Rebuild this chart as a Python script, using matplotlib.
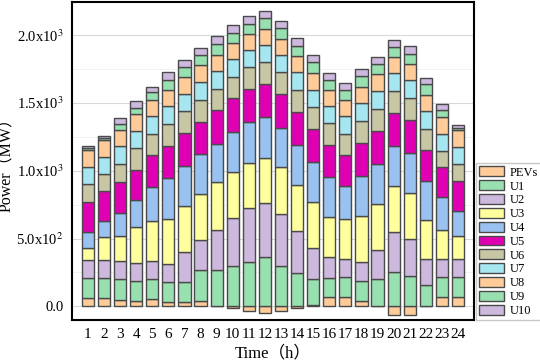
import matplotlib
matplotlib.use("Agg")
import matplotlib.pyplot as plt
import numpy as np

plt.rcParams['font.family'] = ['Liberation Serif', 'Noto Sans CJK SC', 'DejaVu Sans']
plt.rcParams['mathtext.fontset'] = 'stix'

hours = list(range(1, 25))
series_names = ['PEVs', 'U1', 'U2', 'U3', 'U4', 'U5', 'U6', 'U7', 'U8', 'U9', 'U10']

pevs = [61, 61, 49, 42, 54, 29, 34, 42, 5, -15, -31, -49,
        -37, -10, 10, 66, 66, 40, 4, -61, -63, 3, 66, 66]
u1 = [151, 151, 151, 146, 146, 149, 149, 226, 263, 300, 325, 365,
      300, 249, 190, 146, 149, 150, 195, 250, 224, 156, 149, 149]
u2 = [132, 132, 136, 134, 136, 134, 217, 220, 298, 353, 397, 395,
      383, 307, 227, 149, 134, 139, 214, 296, 271, 190, 134, 131]
u3 = [87, 168, 186, 263, 293, 334, 336, 341, 348, 337, 334, 336,
      340, 339, 341, 297, 292, 339, 342, 340, 338, 290, 212, 171]
u4 = [117, 117, 168, 200, 248, 297, 298, 292, 285, 297, 299, 298,
      293, 294, 297, 297, 249, 295, 292, 295, 298, 287, 243, 185]
u5 = [222, 224, 224, 219, 239, 239, 243, 239, 244, 244, 246, 243,
      248, 242, 241, 234, 224, 243, 244, 244, 243, 225, 219, 224]
u6 = [132, 122, 134, 166, 156, 159, 161, 163, 158, 160, 159, 159,
      159, 160, 159, 159, 158, 159, 163, 163, 157, 157, 122, 122]
u7 = [124, 127, 132, 122, 129, 131, 126, 129, 129, 129, 126, 129,
      129, 132, 132, 129, 129, 129, 129, 129, 134, 130, 127, 127]
u8 = [124, 122, 117, 122, 122, 122, 122, 122, 122, 120, 122, 117,
      117, 122, 124, 120, 117, 124, 127, 120, 122, 122, 122, 122]
u9 = [15, 14, 48, 48, 56, 75, 79, 78, 78, 73, 73, 78,
      78, 75, 75, 72, 79, 76, 73, 73, 75, 77, 51, 17]
u10 = [15, 15, 44, 49, 39, 54, 51, 54, 58, 59, 59, 56,
       58, 54, 56, 49, 48, 53, 56, 51, 56, 44, 42, 19]

colors = ['#FFCC99', '#99E0B0', '#CDB9DE', '#FFFF9E', '#99C2F0', '#E000B4',
          '#C7C7A6', '#A6E6F0', '#FFCC99', '#99E0B0', '#CDB9DE']

units = [u1, u2, u3, u4, u5, u6, u7, u8, u9, u10]

fig = plt.figure(figsize=(5.4, 3.62), dpi=100)
ax = fig.add_axes([0.133, 0.116, 0.745, 0.878])

x = np.array(hours)
w = 0.76
edge = '#4a4a4a'

handles = []
h = ax.bar(x, pevs, w, bottom=0, color=colors[0], edgecolor=edge, linewidth=1.0, zorder=3)
handles.append(h)
bottom = np.maximum(np.array(pevs, dtype=float), 0)
for vals, c in zip(units, colors[1:]):
    h = ax.bar(x, vals, w, bottom=bottom, color=c, edgecolor=edge, linewidth=1.0, zorder=3)
    handles.append(h)
    bottom = bottom + np.array(vals)

ax.set_xlim(0, 25)
ax.set_ylim(-100, 2240)
ax.set_xticks(hours)
ax.set_xticklabels([str(v) for v in hours], fontsize=11)
ax.set_yticks([0, 500, 1000, 1500, 2000])
ax.set_yticklabels(['0.0', '5.0x10$^2$', '1.0x10$^3$', '1.5x10$^3$', '2.0x10$^3$'], fontsize=10.5)
ax.set_yticks([250, 750, 1250, 1750], minor=True)
ax.tick_params(axis='both', which='both', length=0, pad=6)
ax.grid(axis='y', which='major', color='#d9d9d9', linewidth=0.8, zorder=0)
ax.grid(axis='y', which='minor', color='#f0f0f0', linewidth=0.6, zorder=0)

for s in ax.spines.values():
    s.set_linewidth(1.5)
    s.set_color('black')

ax.set_xlabel('Time（h）', fontsize=12, labelpad=3)
ax.set_ylabel('Power（MW）', fontsize=11.5, labelpad=1)

fig.legend(handles, series_names, loc='lower left',
           bbox_to_anchor=(0.881, 0.116), fontsize=9, frameon=True,
           fancybox=False, edgecolor='#bbbbbb', handlelength=2.0, handleheight=0.85,
           labelspacing=0.12, borderpad=0.25, handletextpad=0.5, borderaxespad=0)

fig.savefig('out.png', dpi=100)
